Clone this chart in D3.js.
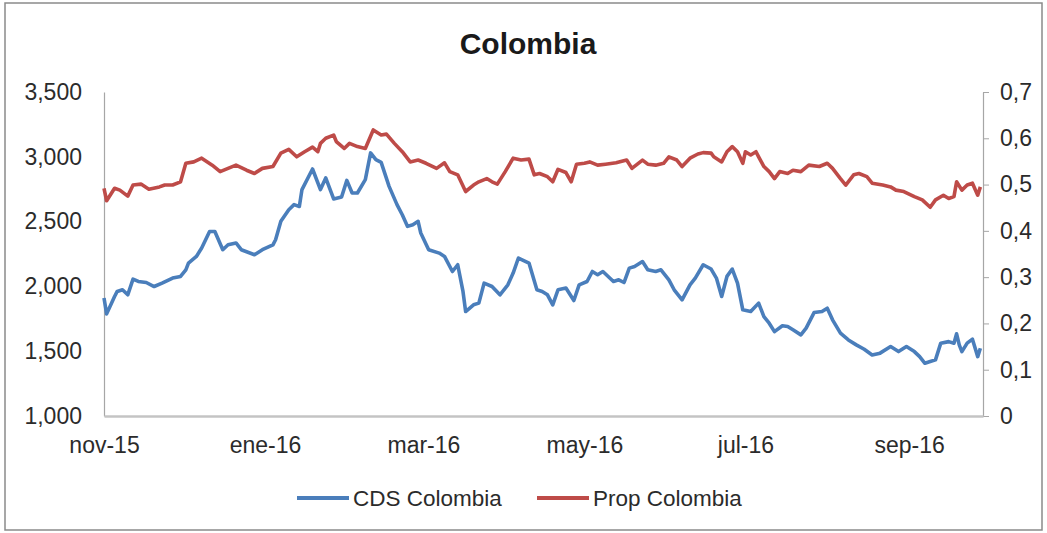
<!DOCTYPE html>
<html>
<head>
<meta charset="utf-8">
<script src="https://cdn.jsdelivr.net/npm/d3@7"></script>
<style>
  html, body { margin: 0; padding: 0; background: #fff; }
  svg { display: block; font-family: "Liberation Sans", Arial, sans-serif; }
</style>
</head>
<body>
<svg id="chart" width="1047" height="533"></svg>
<script>
// CDS Colombia (left axis, basis points)
const cdsDates = [
  "2015-11-01","2015-11-02","2015-11-05","2015-11-06","2015-11-08","2015-11-10","2015-11-12","2015-11-14","2015-11-17","2015-11-20","2015-11-23","2015-11-27","2015-11-30",
  "2015-12-02","2015-12-03","2015-12-06","2015-12-08","2015-12-11","2015-12-13","2015-12-16","2015-12-18","2015-12-21","2015-12-23","2015-12-28","2015-12-31",
  "2016-01-04","2016-01-05","2016-01-07","2016-01-10","2016-01-12","2016-01-14","2016-01-15","2016-01-19","2016-01-22","2016-01-24","2016-01-27","2016-01-30",
  "2016-02-01","2016-02-03","2016-02-05","2016-02-08","2016-02-10","2016-02-12","2016-02-14","2016-02-17","2016-02-20","2016-02-22","2016-02-24","2016-02-26","2016-02-28","2016-02-29",
  "2016-03-03","2016-03-07","2016-03-09","2016-03-12","2016-03-14","2016-03-16","2016-03-17","2016-03-20","2016-03-22","2016-03-24","2016-03-27","2016-03-30",
  "2016-04-02","2016-04-04","2016-04-06","2016-04-10","2016-04-13","2016-04-15","2016-04-17","2016-04-19","2016-04-21","2016-04-24","2016-04-27","2016-04-29",
  "2016-05-02","2016-05-04","2016-05-06","2016-05-08","2016-05-12","2016-05-14","2016-05-16","2016-05-18","2016-05-20","2016-05-23","2016-05-25","2016-05-28","2016-05-30",
  "2016-06-02","2016-06-04","2016-06-07","2016-06-10","2016-06-12","2016-06-15","2016-06-18","2016-06-20","2016-06-22","2016-06-24","2016-06-26","2016-06-28","2016-06-30",
  "2016-07-03","2016-07-06","2016-07-08","2016-07-10","2016-07-12","2016-07-15","2016-07-17","2016-07-19","2016-07-22","2016-07-24","2016-07-27","2016-07-30",
  "2016-08-01","2016-08-03","2016-08-06","2016-08-09","2016-08-12","2016-08-15","2016-08-18","2016-08-21","2016-08-25","2016-08-28","2016-08-31",
  "2016-09-03","2016-09-05","2016-09-07","2016-09-09","2016-09-11","2016-09-13","2016-09-16","2016-09-18","2016-09-19","2016-09-20","2016-09-21","2016-09-23","2016-09-25","2016-09-27","2016-09-28"
];
const cdsValues = [
  1910,1788,1922,1961,1974,1935,2056,2038,2030,1999,2025,2064,2077,
  2128,2180,2231,2296,2424,2424,2283,2321,2335,2283,2244,2283,
  2321,2360,2502,2592,2631,2617,2747,2906,2747,2837,2675,2690,
  2818,2721,2721,2824,3030,2978,2957,2772,2631,2553,2463,2476,2502,2412,
  2283,2257,2231,2115,2167,1961,1806,1858,1871,2025,1999,1935,
  2012,2103,2219,2180,1974,1961,1935,1858,1974,1987,1891,2012,
  2038,2115,2090,2115,2038,2051,2030,2141,2154,2192,2128,2115,2128,
  2051,1974,1896,2012,2064,2167,2134,2064,1922,2077,2134,2025,1819,
  1806,1871,1767,1716,1651,1696,1690,1665,1626,1678,1798,1806,
  1832,1742,1639,1587,1549,1515,1471,1485,1536,1497,1536,
  1497,1458,1407,1420,1433,1562,1574,1562,1634,1549,1497,1562,1593,1458,1523
];

// Prop Colombia (right axis, ratio)
const propDates = [
  "2015-11-01","2015-11-02","2015-11-05","2015-11-07","2015-11-10","2015-11-12","2015-11-15","2015-11-18","2015-11-22","2015-11-24","2015-11-27","2015-11-30",
  "2015-12-02","2015-12-05","2015-12-08","2015-12-12","2015-12-15","2015-12-18","2015-12-21","2015-12-25","2015-12-28","2015-12-31",
  "2016-01-04","2016-01-07","2016-01-10","2016-01-13","2016-01-16","2016-01-19","2016-01-21","2016-01-22","2016-01-24","2016-01-27","2016-01-28","2016-01-31",
  "2016-02-02","2016-02-05","2016-02-08","2016-02-11","2016-02-14","2016-02-16","2016-02-19","2016-02-22","2016-02-25","2016-02-28",
  "2016-03-02","2016-03-06","2016-03-09","2016-03-11","2016-03-14","2016-03-17","2016-03-20","2016-03-22","2016-03-25","2016-03-27","2016-03-29",
  "2016-04-01","2016-04-04","2016-04-07","2016-04-10","2016-04-12","2016-04-14","2016-04-17","2016-04-19","2016-04-21","2016-04-24","2016-04-26","2016-04-28",
  "2016-05-01","2016-05-03","2016-05-06","2016-05-09","2016-05-13","2016-05-17","2016-05-19","2016-05-23","2016-05-25","2016-05-28","2016-05-31",
  "2016-06-02","2016-06-05","2016-06-07","2016-06-10","2016-06-13","2016-06-15","2016-06-18","2016-06-19","2016-06-22","2016-06-24","2016-06-26","2016-06-28","2016-06-30",
  "2016-07-01","2016-07-03","2016-07-05","2016-07-06","2016-07-08","2016-07-10","2016-07-12","2016-07-14","2016-07-17","2016-07-19","2016-07-22","2016-07-25","2016-07-29",
  "2016-08-01","2016-08-03","2016-08-06","2016-08-08","2016-08-11","2016-08-13","2016-08-16","2016-08-18","2016-08-22","2016-08-25","2016-08-27","2016-08-30",
  "2016-09-03","2016-09-06","2016-09-09","2016-09-11","2016-09-14","2016-09-16","2016-09-18","2016-09-19","2016-09-21","2016-09-23","2016-09-25","2016-09-27","2016-09-28"
];
const propValues = [
  0.492,0.465,0.492,0.488,0.475,0.499,0.501,0.490,0.495,0.499,0.499,0.506,
  0.546,0.549,0.557,0.542,0.528,0.535,0.542,0.531,0.524,0.535,
  0.539,0.568,0.576,0.560,0.571,0.581,0.571,0.589,0.600,0.607,0.593,0.578,
  0.589,0.582,0.578,0.618,0.607,0.609,0.589,0.571,0.549,0.553,
  0.546,0.535,0.547,0.528,0.521,0.485,0.499,0.506,0.513,0.506,0.501,
  0.528,0.557,0.553,0.555,0.521,0.524,0.517,0.506,0.533,0.526,0.506,0.544,
  0.546,0.549,0.542,0.544,0.547,0.553,0.535,0.553,0.544,0.542,0.546,
  0.560,0.553,0.539,0.557,0.566,0.569,0.568,0.560,0.549,0.571,0.582,0.571,0.546,
  0.571,0.564,0.571,0.560,0.539,0.528,0.513,0.528,0.524,0.531,0.528,0.542,0.539,
  0.546,0.535,0.513,0.499,0.521,0.524,0.517,0.503,0.499,0.495,0.488,0.485,
  0.474,0.467,0.451,0.467,0.477,0.470,0.474,0.506,0.488,0.499,0.503,0.477,0.495
];

// Axis ticks and labels
const xTickDates = ["2015-11-01","2016-01-01","2016-03-01","2016-05-01","2016-07-01","2016-09-01"];
const xTickLabels = ["nov-15","ene-16","mar-16","may-16","jul-16","sep-16"];
const leftTicks = [1000,1500,2000,2500,3000,3500];
const leftLabels = ["1,000","1,500","2,000","2,500","3,000","3,500"];
const rightTicks = [0,0.1,0.2,0.3,0.4,0.5,0.6,0.7];
const rightLabels = ["0","0,1","0,2","0,3","0,4","0,5","0,6","0,7"];
const xDomain = ["2015-11-01","2016-09-29"];

const seriesNames = ["CDS Colombia","Prop Colombia"];
const seriesColors = ["#4a7ebb","#be4b48"];

const parse = d3.utcParse("%Y-%m-%d");
const svg = d3.select("#chart");

const plot = { left: 104, right: 983, top: 92, bottom: 416 };

const x = d3.scaleUtc().domain(xDomain.map(parse)).range([plot.left, plot.right]);
const yL = d3.scaleLinear().domain([1000,3500]).range([plot.bottom, plot.top]);
const yR = d3.scaleLinear().domain([0,0.7]).range([plot.bottom, plot.top]);

// outer frame
svg.append("rect")
  .attr("x", 5).attr("y", 3).attr("width", 1037).attr("height", 527)
  .attr("fill", "none").attr("stroke", "#8a8a8a").attr("stroke-width", 1.5);

// title
svg.append("text")
  .attr("x", 528).attr("y", 54)
  .attr("text-anchor", "middle")
  .attr("font-size", 30).attr("font-weight", "bold").attr("fill", "#1a1a1a")
  .text("Colombia");

const textColor = "#2b2b2b";

// left axis
const gL = svg.append("g").attr("transform", `translate(${plot.left},0)`)
  .call(d3.axisLeft(yL).tickValues(leftTicks).tickFormat((d, i) => leftLabels[i]).tickSize(0).tickPadding(22));
gL.select(".domain").attr("stroke", "#a6a6a6").attr("stroke-width", 1.2);
gL.selectAll("text").attr("font-size", 23).attr("fill", textColor).attr("font-family", "Liberation Sans, Arial, sans-serif");

// right axis
const gR = svg.append("g").attr("transform", `translate(${plot.right},0)`)
  .call(d3.axisRight(yR).tickValues(rightTicks).tickFormat((d, i) => rightLabels[i]).tickSize(6).tickSizeOuter(0).tickPadding(11));
gR.select(".domain").attr("stroke", "#a6a6a6").attr("stroke-width", 1.2);
gR.selectAll("line").attr("stroke", "#a6a6a6");
gR.selectAll("text").attr("font-size", 23).attr("fill", textColor).attr("font-family", "Liberation Sans, Arial, sans-serif");

// bottom axis
const gX = svg.append("g").attr("transform", `translate(0,${plot.bottom})`)
  .call(d3.axisBottom(x).tickValues(xTickDates.map(parse)).tickFormat((d, i) => xTickLabels[i]).tickSize(0).tickPadding(21));
gX.select(".domain").attr("stroke", "#c4c4c4").attr("stroke-width", 2.5);
gX.selectAll("text").attr("font-size", 23).attr("fill", textColor).attr("font-family", "Liberation Sans, Arial, sans-serif");

// series lines
const cdsData = cdsDates.map((d, i) => ({ date: parse(d), value: cdsValues[i] }));
const propData = propDates.map((d, i) => ({ date: parse(d), value: propValues[i] }));

svg.append("path")
  .datum(propData)
  .attr("fill", "none").attr("stroke", seriesColors[1]).attr("stroke-width", 3.6)
  .attr("stroke-linejoin", "round")
  .attr("d", d3.line().x(d => x(d.date)).y(d => yR(d.value)));

svg.append("path")
  .datum(cdsData)
  .attr("fill", "none").attr("stroke", seriesColors[0]).attr("stroke-width", 3.6)
  .attr("stroke-linejoin", "round")
  .attr("d", d3.line().x(d => x(d.date)).y(d => yL(d.value)));

// legend
const legendItems = [
  { x: 297, name: seriesNames[0], color: seriesColors[0] },
  { x: 537, name: seriesNames[1], color: seriesColors[1] }
];
const lg = svg.append("g");
legendItems.forEach(it => {
  lg.append("line")
    .attr("x1", it.x).attr("x2", it.x + 52).attr("y1", 498).attr("y2", 498)
    .attr("stroke", it.color).attr("stroke-width", 3.8);
  lg.append("text")
    .attr("x", it.x + 56).attr("y", 506)
    .attr("font-size", 22.5).attr("fill", textColor)
    .text(it.name);
});
</script>
</body>
</html>
